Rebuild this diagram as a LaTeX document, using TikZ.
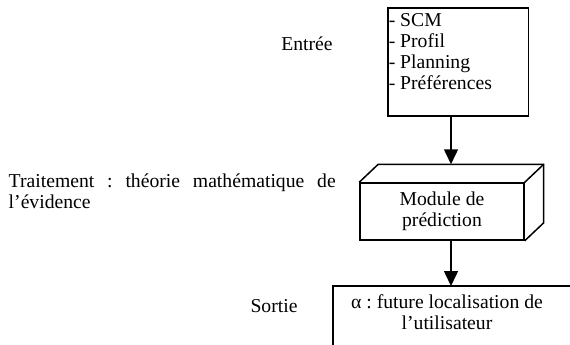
\documentclass[tikz,border=0pt]{standalone}
\usepackage{fontspec}
\setmainfont{Liberation Serif}
\usetikzlibrary{arrows.meta,calc}
\frenchspacing

\begin{document}
\begin{tikzpicture}[x=0.6pt,y=-0.6pt,>={Triangle[length=9pt,width=8.4pt]},line width=0.9pt,
    every node/.style={font=\fontsize{11.8pt}{12.6pt}\selectfont}]
    \tikzstyle{boite}=[draw, line width=0.9pt, inner sep=0pt]
    \tikzstyle{texte}=[inner sep=0pt]

    \useasboundingbox (0,0) rectangle (570,345);
    \clip (0,0) rectangle (570,345);

    \coordinate (nwEntree) at (387,7);
    \coordinate (cModule) at (442,211.5);
    \coordinate (nwSortie) at (333,286);

    % entree
    \node[boite, anchor=north west, minimum width=84.6pt, minimum height=64.8pt] (entree) at (nwEntree) {};
    \node[texte, anchor=north west, align=left] (listeEntree) at (388,13) {- SCM\\- Profil\\- Planning\\- Préférences};
    \node[texte, anchor=base] (lblEntree) at (307,50) {Entrée};

    % module de prediction
    \node[boite, minimum width=98.4pt, minimum height=34.2pt, align=center] (module) at (cModule) {Module de\\prédiction};
    \coordinate (haut) at ($(module.north)+(9,-18)$);
    \draw (module.north west) -- ++(19,-18) -- ($(module.north east)+(19,-18)$) -- ($(module.south east)+(19,-18)$) -- (module.south east);
    \draw (module.north east) -- ++(19,-18);
    \node[texte, anchor=north west, text width=196.2pt, align=justify] (lblTraitement) at (8,173)
        {Traitement : théorie mathématique de l’évidence};

    % sortie
    \draw (nwSortie |- 0,352) -- (nwSortie) -- (nwSortie -| 600,0);
    \node[texte, anchor=north, align=center] (sortie) at (447,294) {α : future localisation de\\l’utilisateur};
    \node[texte, anchor=base] (lblSortie) at (274,312) {Sortie};

    \draw[->] (entree.south -| haut) -- (haut);
    \draw[->] (module.south -| haut) -- (haut |- nwSortie);
\end{tikzpicture}
\end{document}
